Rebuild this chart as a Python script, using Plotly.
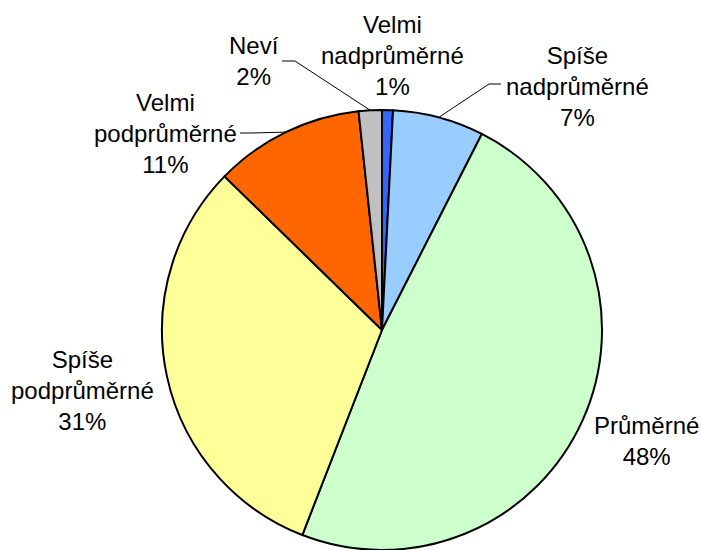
import math
import plotly.graph_objects as go

categories = ["Velmi nadprůměrné", "Spíše nadprůměrné", "Průměrné",
              "Spíše podprůměrné", "Velmi podprůměrné", "Neví"]
values = [0.8, 6.7, 48.4, 31.4, 11.0, 1.7]
pct_labels = ["1%", "7%", "48%", "31%", "11%", "2%"]
colors = ["#3366FF", "#99CCFF", "#CCFFCC", "#FFFF99", "#FF6600", "#C0C0C0"]

W, H = 701, 550
CX, CY, R = 382, 330, 220  # pie centre / radius in px (layout)

# label layout (px centres of the text blocks)
label_text = {
    "Velmi nadprůměrné": "Velmi<br>nadprůměrné",
    "Spíše nadprůměrné": "Spíše<br>nadprůměrné",
    "Průměrné": "Průměrné",
    "Spíše podprůměrné": "Spíše<br>podprůměrné",
    "Velmi podprůměrné": "Velmi<br>podprůměrné",
    "Neví": "Neví",
}
label_pos = {
    "Velmi nadprůměrné": (392, 56),
    "Spíše nadprůměrné": (577, 86),
    "Průměrné": (646, 441),
    "Spíše podprůměrné": (82, 390),
    "Velmi podprůměrné": (165, 133),
    "Neví": (254, 61),
}
# leader line elbows: (label-side start, elbow)
leaders = {
    "Spíše nadprůměrné": ((501, 84), (489, 84)),
    "Velmi podprůměrné": ((240, 133), (252, 133)),
    "Neví": ((282, 61), (295, 61)),
}

def px(x):
    return x / W

def py(y):
    return 1 - y / H

fig = go.Figure(go.Pie(
    labels=categories,
    values=values,
    sort=False,
    direction="clockwise",
    rotation=0,
    marker=dict(colors=colors, line=dict(color="black", width=2)),
    textinfo="none",
    hoverinfo="label+percent",
    showlegend=False,
    domain=dict(x=[(CX - 250) / W, (CX + 250) / W], y=[0, 2 * R / H]),
))

total = sum(values)
cum = 0.0
annotations = []
shapes = []
for cat, v, pl in zip(categories, values, pct_labels):
    mid = (cum + v / 2) / total * 2 * math.pi
    cum += v
    ex = CX + R * math.sin(mid)
    ey = CY - R * math.cos(mid)
    lx, ly = label_pos[cat]
    annotations.append(dict(
        x=px(lx), y=py(ly), xref="paper", yref="paper",
        text=label_text[cat] + "<br>" + pl, showarrow=False,
        xanchor="center", yanchor="middle", align="center",
        font=dict(family="Liberation Sans, Arial, sans-serif", size=24, color="black"),
    ))
    if cat in leaders:
        (sx, sy), (bx, by) = leaders[cat]
        path = f"M {px(sx)},{py(sy)} L {px(bx)},{py(by)} L {px(ex)},{py(ey)}"
        shapes.append(dict(type="path", path=path, xref="paper", yref="paper",
                           line=dict(color="black", width=1)))

fig.update_layout(
    width=W, height=H,
    margin=dict(l=0, r=0, t=0, b=0),
    paper_bgcolor="white", plot_bgcolor="white",
    annotations=annotations, shapes=shapes,
)

fig.write_html("out.html", config={"displayModeBar": False},
               post_script="document.body.style.margin='0';document.body.style.overflow='hidden';")
